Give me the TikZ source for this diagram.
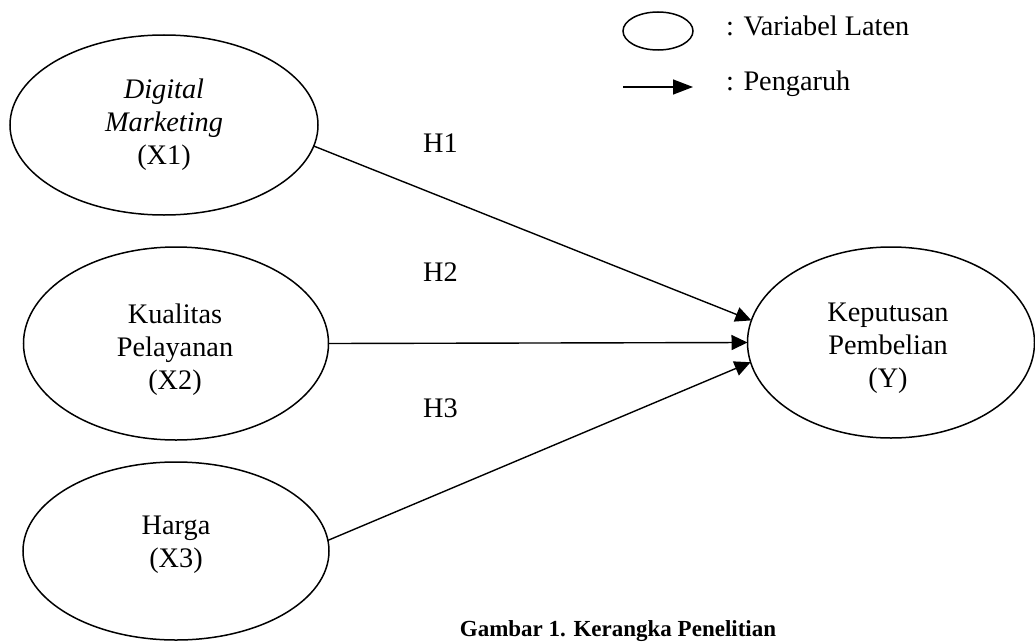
\documentclass[tikz,border=0pt]{standalone}
\usepackage{fontspec}
\setmainfont{Liberation Serif}
\usetikzlibrary{shapes.geometric,arrows.meta}
\tikzset{
  lv/.style={draw, ellipse, line width=1.5pt, inner sep=0pt, outer sep=0pt},
  lvtext/.style={align=center, inner sep=0pt, font=\fontsize{28.3}{33}\selectfont},
  txt/.style={font=\fontsize{28.3}{33}\selectfont, inner sep=0pt, anchor=base west},
  arr/.style={line width=1.4pt, -{Triangle[length=16pt,width=15pt]}},
}
\begin{document}
\begin{tikzpicture}[x=1pt,y=-1pt]
\useasboundingbox (0,0) rectangle (1035,642);
% legend
\node[lv, minimum width=70pt, minimum height=38pt] (leg) at (658,31) {};
\node[txt] (legt) at (726,36) {: Variabel Laten};
\coordinate (la) at (623,87);
\coordinate (lb) at (693,87);
\draw[line width=1.4pt, -{Triangle[length=20pt,width=15pt]}] (la) -- (lb);
\node[txt] (lega) at (726,90) {: Pengaruh};
% latent variables
\node[lv, minimum width=308pt, minimum height=180pt] (x1) at (164,125) {};
\node[lvtext] (x1t) at (164,125) {\textit{Digital}\\\textit{Marketing}\\(X1)};
\node[lv, minimum width=305pt, minimum height=193pt] (x2) at (176,343.5) {};
\node[lvtext] (x2t) at (175,349.5) {Kualitas\\Pelayanan\\(X2)};
\node[lv, minimum width=306pt, minimum height=178pt] (x3) at (176,551) {};
\node[lvtext] (x3t) at (176,545) {Harga\\(X3)};
\node[lv, minimum width=287pt, minimum height=191pt] (y) at (891,342.5) {};
\node[lvtext] (yt) at (888,348.5) {Keputusan\\Pembelian\\(Y)};
% paths
\draw[arr] (x1.-8.5) -- (y.171.2);
\draw[arr] (x2.east) -- (y.west);
\draw[arr] (x3.4.9) -- (y.188);
% hypothesis labels
\node[txt] (h1) at (423,152) {H1};
\node[txt] (h2) at (423,281) {H2};
\node[txt] (h3) at (423,417) {H3};
% caption
\node[font=\fontsize{23}{27}\selectfont\bfseries, inner sep=0pt, anchor=base] (cap) at (618,636) {Gambar 1. Kerangka Penelitian};
\end{tikzpicture}
\end{document}
